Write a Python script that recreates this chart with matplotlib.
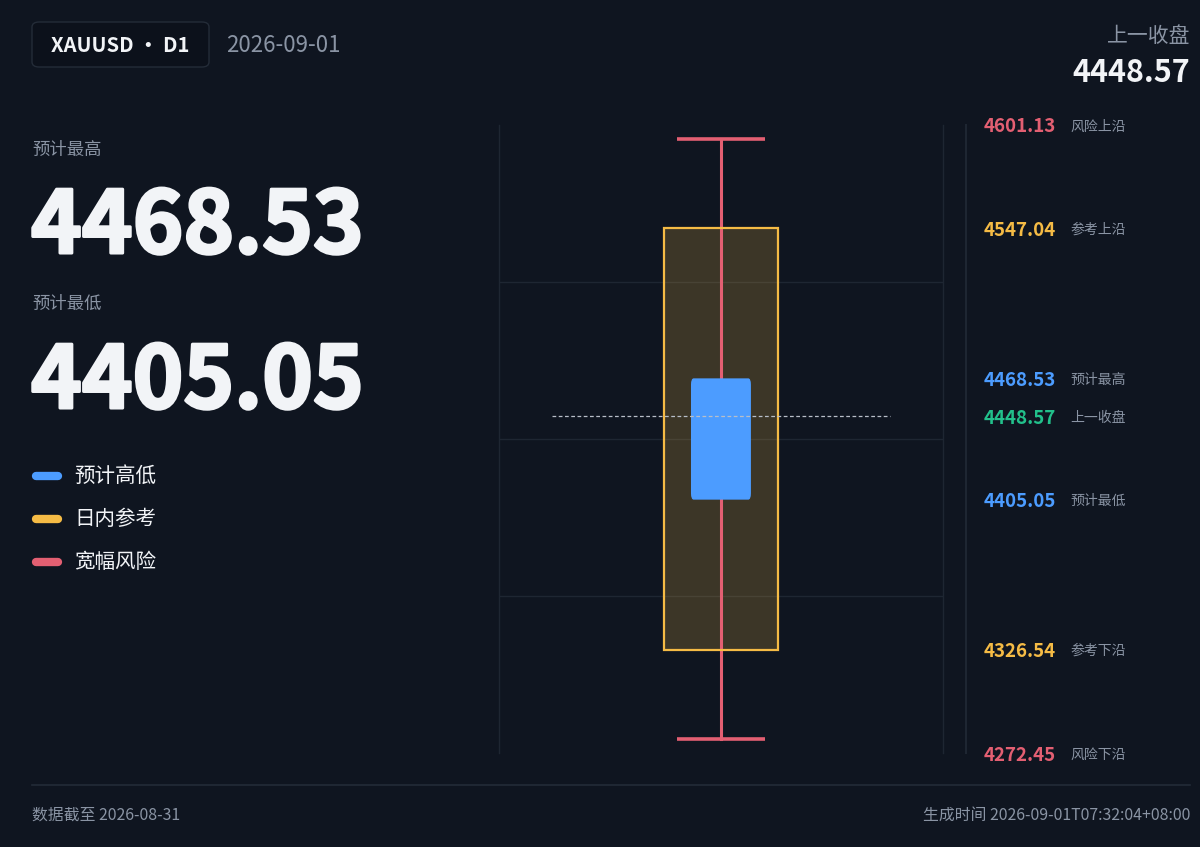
import matplotlib.pyplot as plt
import matplotlib.transforms as mtransforms
import matplotlib.patheffects as pe
from matplotlib.lines import Line2D
from matplotlib.patches import FancyBboxPatch, Rectangle

symbol = "XAUUSD • D1"
date = "2026-09-01"
data_date = "2026-08-31"
gen_time = "2026-09-01T07:32:04+08:00"

prev_close = 4448.57
pred_high = 4468.53
pred_low = 4405.05
ref_high = 4547.04
ref_low = 4326.54
risk_high = 4601.13
risk_low = 4272.45

level_vals = [risk_high, ref_high, pred_high, prev_close, pred_low, ref_low, risk_low]
level_names = ["风险上沿", "参考上沿", "预计最高", "上一收盘", "预计最低", "参考下沿", "风险下沿"]
level_kinds = ["risk", "ref", "pred", "close", "pred", "ref", "risk"]

legend_names = ["预计高低", "日内参考", "宽幅风险"]

BG = "#0f1520"
GRID = "#1e2632"
MUTED = "#8a94a4"
WHITE = "#f2f4f7"
BLUE = "#4c9cff"
ORANGE = "#f5bb45"
RED = "#e35f72"
GREEN = "#22c08b"
colors = {"pred": BLUE, "ref": ORANGE, "risk": RED, "close": GREEN}

CJK = ["Noto Sans CJK SC", "DejaVu Sans"]
plt.rcParams['font.family'] = CJK

W, H = 1200, 847
fig = plt.figure(figsize=(12, 8.47), dpi=100, facecolor=BG)


def fx(x):
    return x / W


def fy(y):
    return 1 - y / H


def ftext(x, y, s, **kw):
    fig.text(fx(x), fy(y), s, **kw)


# header
fig.add_artist(FancyBboxPatch((fx(32), fy(67)), fx(177), 45 / H,
                              boxstyle="round,pad=0,rounding_size=0.006",
                              transform=fig.transFigure, facecolor="#0c111b",
                              edgecolor="#242c38", linewidth=1))
ftext(120, 45, symbol, color=WHITE, fontsize=14.5, fontweight="bold",
      ha="center", va="center")
ftext(226, 45, date, color=MUTED, fontsize=16, ha="left", va="center")
ftext(1190, 36, "上一收盘", color=MUTED, fontsize=15, ha="right", va="center")
ftext(1190, 73, f"{prev_close:.2f}", color=WHITE, fontsize=22, fontweight="bold",
      ha="right", va="center")

# big numbers (thin stroke to get the heavier look)
heavy = [pe.withStroke(linewidth=2.2, foreground=WHITE)]
ftext(32, 150, "预计最高", color=MUTED, fontsize=12.5, ha="left", va="center")
ftext(31, 253, f"{pred_high:.2f}", color=WHITE, fontsize=62, fontweight="bold",
      ha="left", va="baseline", path_effects=heavy)
ftext(32, 304, "预计最低", color=MUTED, fontsize=12.5, ha="left", va="center")
ftext(31, 408, f"{pred_low:.2f}", color=WHITE, fontsize=62, fontweight="bold",
      ha="left", va="baseline", path_effects=heavy)

# legend
for i, (name, c) in enumerate(zip(legend_names, [BLUE, ORANGE, RED])):
    y = 476 + i * 43
    fig.add_artist(Line2D([fx(36), fx(58)], [fy(y), fy(y)], color=c, linewidth=6,
                          solid_capstyle="round", transform=fig.transFigure))
    ftext(74, y, name, color=WHITE, fontsize=14.8, ha="left", va="center")

# chart
ax = fig.add_axes([fx(499), fy(753), 444 / W, 628 / H])
ax.set_facecolor(BG)
ax.set_xlim(0, 1)
ax.set_ylim(risk_low, risk_high)
for s in ["top", "bottom"]:
    ax.spines[s].set_visible(False)
for s in ["left", "right"]:
    ax.spines[s].set_color(GRID)
    ax.spines[s].set_linewidth(1)
ax.set_xticks([])
ax.set_yticks([])
span = risk_high - risk_low
for k in (1, 2, 3):
    ax.axhline(risk_low + span * k / 4, color=GRID, linewidth=1, zorder=0)

cx = 0.5
# reference band
ax.add_patch(Rectangle((cx - 0.128, ref_low), 0.256, ref_high - ref_low,
                       facecolor=ORANGE, alpha=0.2, edgecolor="none", zorder=1))
# risk whisker (caps kept slightly inside the plot edges)
inset = span * 0.022
ax.plot([cx, cx], [risk_low + inset, risk_high - inset], color=RED, lw=2.2, zorder=2)
for v in (risk_low + inset, risk_high - inset):
    ax.plot([cx - 0.1, cx + 0.1], [v, v], color=RED, lw=2.6, zorder=2,
            solid_capstyle="butt")
ax.add_patch(Rectangle((cx - 0.128, ref_low), 0.256, ref_high - ref_low,
                       facecolor="none", edgecolor=ORANGE, linewidth=1.6, zorder=3))
# predicted range
ax.add_patch(FancyBboxPatch((cx - 0.0676, pred_low), 0.135, pred_high - pred_low,
                            boxstyle="round,pad=0,rounding_size=0.006",
                            mutation_aspect=span / 0.6,
                            facecolor=BLUE, edgecolor="none", zorder=4))
ax.plot([cx - 0.38, cx + 0.38], [prev_close, prev_close], color="#b8bec8",
        lw=0.9, ls=(0, (3, 2)), zorder=5)

# separator
fig.add_artist(Line2D([fx(966), fx(966)], [fy(125), fy(753)], color=GRID,
                      linewidth=1.5, transform=fig.transFigure))

# level labels
tr = mtransforms.blended_transform_factory(fig.transFigure, ax.transData)
for v, name, kind in zip(level_vals, level_names, level_kinds):
    ax.text(fx(984), v, f"{v:.2f}", transform=tr, color=colors[kind], fontsize=13.5,
            fontweight="bold", ha="left", va="center_baseline")
    ax.text(fx(1070), v, name, transform=tr, color=MUTED, fontsize=10,
            ha="left", va="center_baseline")

# footer
fig.add_artist(Line2D([fx(32), fx(1190)], [fy(785), fy(785)], color="#232b38",
                      linewidth=1.2, transform=fig.transFigure))
ftext(32, 815, f"数据截至 {data_date}", color=MUTED, fontsize=11.4, ha="left", va="center")
ftext(1190, 815, f"生成时间 {gen_time}", color=MUTED, fontsize=11.4, ha="right", va="center")

fig.savefig("out.png", dpi=100, facecolor=BG)
